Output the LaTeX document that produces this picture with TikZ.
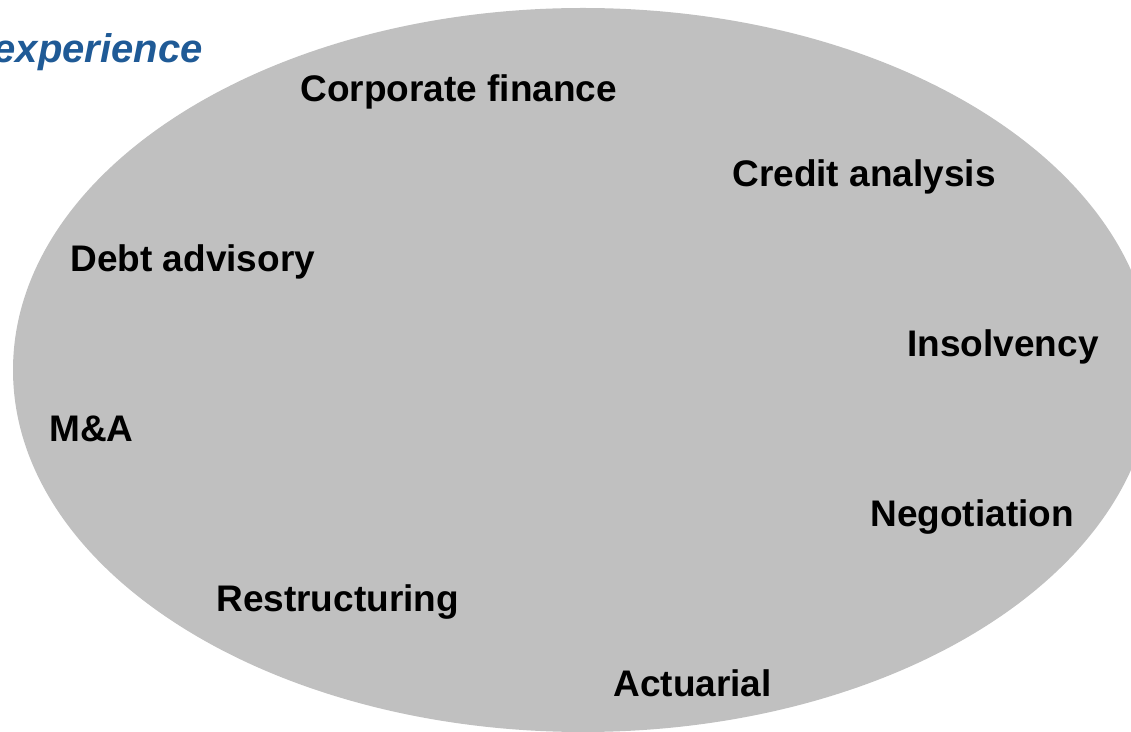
\documentclass[tikz,border=0pt]{standalone}
\usepackage{fontspec}
\setmainfont{Liberation Sans}
\usepackage{tikz}
\usetikzlibrary{positioning}
\definecolor{ovalgrey}{HTML}{C0C0C0}
\definecolor{headblue}{HTML}{1F5A96}
\tikzset{
    skill map/.style={
            x=0.5pt,y=-0.5pt,
            skill/.style={font=\fontsize{18.5}{22}\selectfont\bfseries,anchor=base west,inner sep=0pt},
            heading/.style={font=\fontsize{20}{24}\selectfont\bfseries\itshape,text=headblue,anchor=base east,inner sep=0pt}
        }
    }

\begin{document}
\begin{tikzpicture}[skill map]
        \useasboundingbox (0,0) rectangle (1131,732);
        \fill [ovalgrey] (583,370) ellipse [x radius=285pt, y radius=181pt];
        \node (head) [heading] at (203,63) {experience};
        \node (corp) [skill] at (300,102) {Corporate finance};
        \node (credit) [skill] at (732,187) {Credit analysis};
        \node (debt) [skill] at (70,272) {Debt advisory};
        \node (insolv) [skill] at (907,357) {Insolvency};
        \node (ma) [skill] at (49,442) {M\&A};
        \node (negot) [skill] at (870,527) {Negotiation};
        \node (restr) [skill] at (216,612) {Restructuring};
        \node (actu) [skill] at (613,697) {Actuarial};
    \end{tikzpicture}
\end{document}
